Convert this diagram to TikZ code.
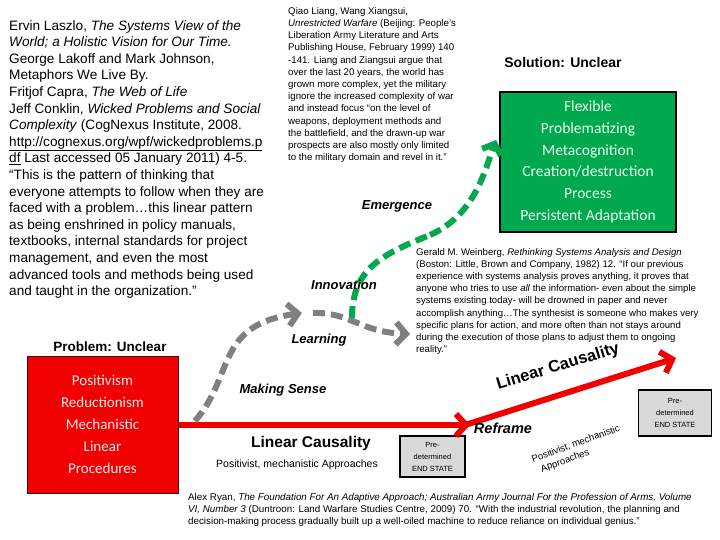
\documentclass[tikz,border=0pt]{standalone}
\usepackage{fontspec}
\setmainfont{Liberation Sans}
\newfontfamily\boxfont{Carlito}
\usetikzlibrary{arrows.meta}
\definecolor{gr}{RGB}{0,168,80}
\definecolor{rd}{RGB}{240,0,0}
\definecolor{gy}{RGB}{128,128,128}
\begin{document}
\begin{tikzpicture}[x=1pt,y=-1pt,
 txt/.style={anchor=north west,inner sep=0pt,align=left},
 lab/.style={font=\bfseries\itshape\fontsize{13}{15}\selectfont,inner sep=0pt},
 endbox/.style={draw=black,line width=1.6pt,fill=black!15,align=center,font=\fontsize{7.5}{12}\selectfont,inner sep=0pt},
 gdash/.style={line width=6pt,dash pattern=on 12pt off 6pt},
 barb/.style={-{Straight Barb[length=10pt,width=22pt]}}]
\useasboundingbox (0,0) rectangle (720,540);
\node[txt,font=\fontsize{13.6}{16.6}\selectfont] (lit) at (9,20) {Ervin Laszlo, \textit{The Systems View of the}\\ \textit{World; a Holistic Vision for Our Time.}\\ George Lakoff and Mark Johnson,\\ Metaphors We Live By.\\ Fritjof Capra, \textit{The Web of Life}\\ Jeff Conklin, \textit{Wicked Problems and Social}\\ \textit{Complexity} (CogNexus Institute, 2008.\\ \underline{http://cognexus.org/wpf/wickedproblems.p}\\ \underline{df} Last accessed 05 January 2011) 4-5.\\ ``This is the pattern of thinking that\\ everyone attempts to follow when they are\\ faced with a problem\dots this linear pattern\\ as being enshrined in policy manuals,\\ textbooks, internal standards for project\\ management, and even the most\\ advanced tools and methods being used\\ and taught in the organization.''};
\node[txt,font=\fontsize{9.7}{12.2}\selectfont] (qiao) at (288,7) {Qiao Liang, Wang Xiangsui,\\ \textit{Unrestricted Warfare} (Beijing: People's\\ Liberation Army Literature and Arts\\ Publishing House, February 1999) 140\\ -141. Liang and Ziangsui argue that\\ over the last 20 years, the world has\\ grown more complex, yet the military\\ ignore the increased complexity of war\\ and instead focus ``on the level of\\ weapons, deployment methods and\\ the battlefield, and the drawn-up war\\ prospects are also mostly only limited\\ to the military domain and revel in it.''};
\node[txt,font=\fontsize{9.6}{12.2}\selectfont] (wein) at (416,248) {Gerald M. Weinberg, \textit{Rethinking Systems Analysis and Design}\\ (Boston: Little, Brown and Company, 1982) 12. ``If our previous\\ experience with systems analysis proves anything, it proves that\\ anyone who tries to use \textit{all} the information- even about the simple\\ systems existing today- will be drowned in paper and never\\ accomplish anything\dots The synthesist is someone who makes very\\ specific plans for action, and more often than not stays around\\ during the execution of those plans to adjust them to ongoing\\ reality.''};
\node[txt,font=\fontsize{9.8}{12.2}\selectfont] (ryan) at (188,493) {Alex Ryan, \textit{The Foundation For An Adaptive Approach; Australian Army Journal For the Profession of Arms, Volume}\\ \textit{VI, Number 3} (Duntroon: Land Warfare Studies Centre, 2009) 70. ``With the industrial revolution, the planning and\\ decision-making process gradually built up a well-oiled machine to reduce reliance on individual genius.''};
% boxes
\node[draw=black!70!red,line width=1pt,fill=rd,minimum width=151pt,minimum height=137pt,inner sep=0pt,align=center,text=white!92!red,font=\boxfont\fontsize{15}{22}\selectfont] (prob) at (102.5,424.5) {Positivism\\Reductionism\\Mechanistic\\Linear\\Procedures};
\node[font=\bfseries\fontsize{13.5}{16}\selectfont,inner sep=0pt] (probt) at (110,347) {Problem: Unclear};
\node[draw=black,line width=1.5pt,fill=gr,minimum width=176pt,minimum height=140pt,inner sep=0pt,align=center,text=white!92!green,font=\boxfont\fontsize{15.5}{21.7}\selectfont] (sol) at (588,162) {Flexible\\Problematizing\\Metacognition\\Creation/destruction\\Process\\Persistent Adaptation};
\node[font=\bfseries\fontsize{14}{16}\selectfont,inner sep=0pt] (solt) at (563,62) {Solution: Unclear};
\node[endbox,minimum width=65pt,minimum height=41pt] (e1) at (432.5,456.5) {Pre-\\determined\\END STATE};
\node[endbox,minimum width=73pt,minimum height=46pt] (e2) at (675,413) {Pre-\\determined\\END STATE};
% coordinates
\coordinate (rA) at (470,425);
\coordinate (rB) at (462,426);
\coordinate (rC) at (676,358);
\coordinate (g0) at (195,421);
\coordinate (g1) at (302,313);
\coordinate (g2) at (313,313);
\coordinate (g3) at (410,334);
\coordinate (n0) at (352,318);
\coordinate (n1) at (430,235);
\coordinate (n2) at (496,140);
% arrows
\draw[rd,line width=6pt,barb] (prob.east |- rA) -- (rA);
\draw[rd,line width=6pt,barb] (rB) -- (rC);
\draw[gy,gdash,barb] (g0) .. controls (235,375) and (215,325) .. (g1);
\draw[gy,gdash,barb] (g2) .. controls (350,312) and (360,332) .. (g3);
\draw[gr,gdash] (n0) .. controls (352,270) and (380,255) .. (n1);
\draw[gr,gdash,-{Straight Barb[length=9pt,width=20pt]}] (n1) .. controls (475,215) and (485,170) .. (n2);
% labels
\node[lab] (em) at (397,206) {Emergence};
\node[lab] (inn) at (344,285) {Innovation};
\node[lab] (lea) at (319,340) {Learning};
\node[lab] (ms) at (283,390) {Making Sense};
\node[font=\bfseries\fontsize{15.5}{18}\selectfont,inner sep=0pt] (lc) at (311,443) {Linear Causality};
\node[font=\fontsize{10.5}{12}\selectfont,inner sep=0pt] (pm) at (297,465) {Positivist, mechanistic Approaches};
\node[font=\bfseries\itshape\fontsize{14.5}{16}\selectfont,inner sep=0pt] (ref) at (503,428) {Reframe};
\node[rotate=17,font=\bfseries\fontsize{16.5}{20}\selectfont,inner sep=0pt] (lc2) at (558,367) {Linear Causality};
\node[rotate=20,align=left,font=\fontsize{9.5}{12}\selectfont,inner sep=0pt] (pm2) at (578,450) {Positivist, mechanistic\\\ \ Approaches};
\end{tikzpicture}
\end{document}
